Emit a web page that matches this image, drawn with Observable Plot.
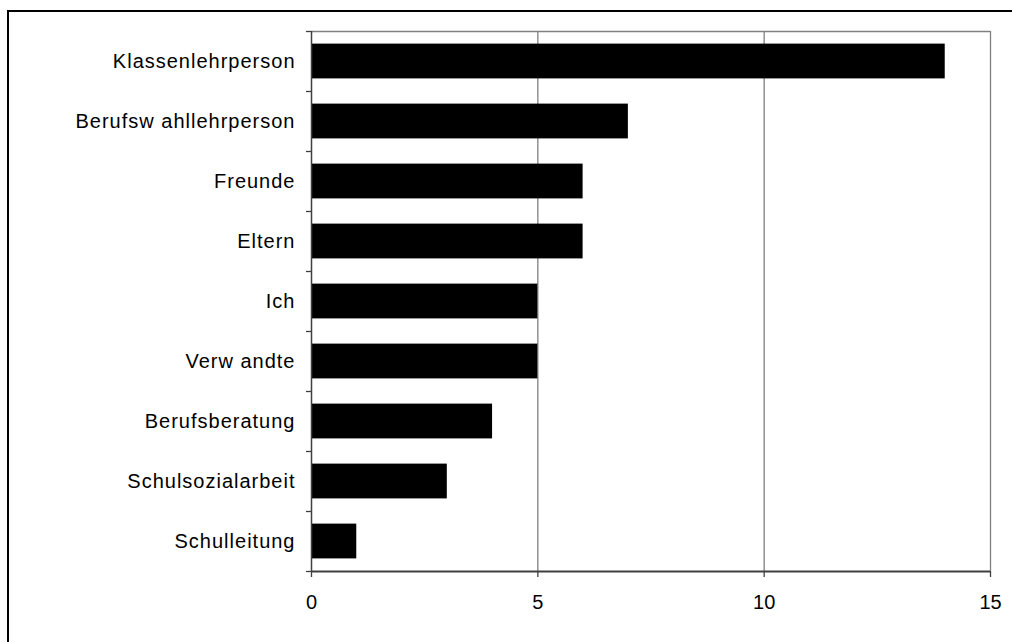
<!DOCTYPE html>
<html>
<head>
<meta charset="utf-8">
<script src="https://cdn.jsdelivr.net/npm/d3@7"></script>
<script src="https://cdn.jsdelivr.net/npm/@observablehq/plot@0.6"></script>
<style>
  html, body { margin: 0; padding: 0; background: #fff; overflow: hidden; }
  #wrap { position: relative; width: 1012px; height: 642px; }
  #frame { position: absolute; left: 6.5px; top: 10px; width: 1100px; height: 700px;
           border-left: 2px solid #000; border-top: 2px solid #000; pointer-events: none; }
  #chart { position: absolute; left: 0; top: 0; }
  #chart g[aria-label="y-axis tick label"] text { letter-spacing: 1px; }
</style>
</head>
<body>
<div id="wrap"><div id="chart"></div><div id="frame"></div></div>
<script>
const categories = ["Klassenlehrperson", "Berufsw ahllehrperson", "Freunde", "Eltern", "Ich",
                    "Verw andte", "Berufsberatung", "Schulsozialarbeit", "Schulleitung"];
const values = [14, 7, 6, 6, 5, 5, 4, 3, 1];
const xTicks = [0, 5, 10, 15];

const pad = 0.21;
const rows = categories.map((c, i) => ({name: c, value: values[i], i}));
const boundaries = d3.range(0, categories.length + 1);
const centers = categories.map((_, i) => i + 0.5);

const chart = Plot.plot({
  width: 1012,
  height: 642,
  marginLeft: 311,
  marginRight: 22,
  marginTop: 31,
  marginBottom: 71,
  style: {fontFamily: "'Liberation Sans', Arial, sans-serif", background: "transparent"},
  x: {type: "linear", domain: [0, 15], label: null},
  y: {type: "linear", domain: [0, categories.length], reverse: true, label: null},
  marks: [
    Plot.ruleX(xTicks.slice(1), {x: d => d, stroke: "#808080", strokeWidth: 1.3}),
    Plot.ruleY([0], {y: d => d, stroke: "#808080", strokeWidth: 1.5}),
    Plot.rectX(rows, {x1: 0, x2: "value", y1: d => d.i + pad, y2: d => d.i + 1 - pad, fill: "#000"}),
    Plot.axisY({ticks: boundaries, tickSize: 5, tickFormat: () => "", stroke: "#404040", strokeWidth: 1.3}),
    Plot.axisY({ticks: centers, tickSize: 0, tickPadding: 16,
                tickFormat: v => categories[Math.floor(v)],
                fontSize: 20, fill: "#000"}),
    Plot.axisX({ticks: xTicks, tickSize: 6, tickPadding: 17, fontSize: 20, fill: "#000",
                stroke: "#404040", strokeWidth: 1.3, tickFormat: d => String(d)}),
    Plot.ruleX([0], {x: d => d, stroke: "#404040", strokeWidth: 1.5}),
    Plot.ruleY([categories.length], {y: d => d, stroke: "#404040", strokeWidth: 2})
  ]
});
document.getElementById("chart").appendChild(chart);
</script>
</body>
</html>
